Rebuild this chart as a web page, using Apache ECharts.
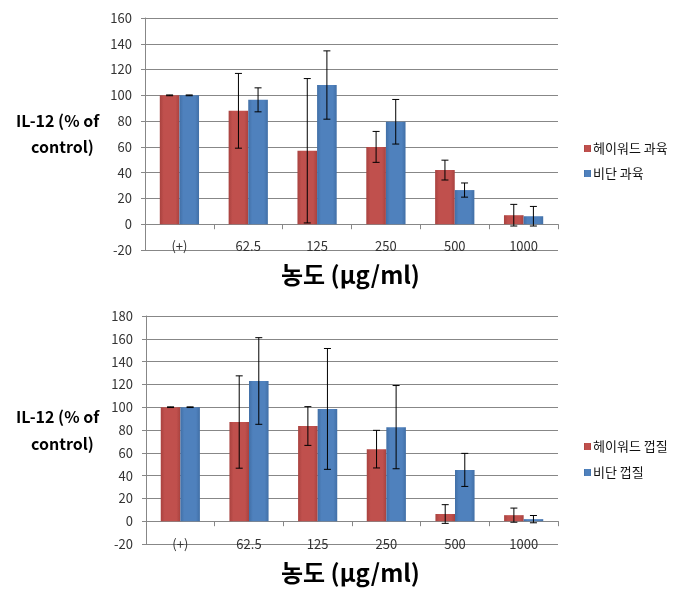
<!DOCTYPE html>
<html>
<head>
<meta charset="utf-8">
<script src="https://cdn.jsdelivr.net/npm/echarts@6/dist/echarts.min.js"></script>
<style>
  html, body { margin: 0; padding: 0; background: #fff; }
</style>
</head>
<body>
<div id="chart" style="width: 690px; height: 611px"></div>
<script>
const categories = ['(+)', '62.5', '125', '250', '500', '1000'];
const yTicks = { top: [-20, 160], bottom: [-20, 180] };

// 과육 (pulp)
const pulpHayward = [100, 88, 57, 60, 42, 7];
const pulpHaywardErr = [0.3, 29, 56, 12, 7.7, 8.4];
const pulpVidan = [100, 96.5, 108, 79.5, 26.5, 6.2];
const pulpVidanErr = [0.3, 9.3, 26.5, 17.3, 5.5, 7.6];

// 껍질 (peel)
const peelHayward = [100, 87, 83.5, 63.2, 6.3, 5.3];
const peelHaywardErr = [0.3, 40.5, 17, 16.5, 8.2, 6.2];
const peelVidan = [100, 123, 98.5, 82.5, 45, 1.8];
const peelVidanErr = [0.3, 38, 53, 36.5, 14.5, 3.2];

const RED = '#C0504D';
const BLUE = '#4F81BD';
const GRID_COLOR = '#878787';
const CAT_GAP = 0.43;

const barFill = (c, dark) => ({
  type: 'linear', x: 0, y: 0, x2: 1, y2: 0,
  colorStops: [
    { offset: 0, color: dark },
    { offset: 0.2, color: c },
    { offset: 0.8, color: c },
    { offset: 1, color: dark }
  ]
});

const errData = (vals, errs) => vals.map((v, i) => [i, v - errs[i], v + errs[i]]);

// error bars drawn through the axis scale, shifted onto the left/right bar
const errorSeries = (name, vals, errs, idx, side) => ({
  type: 'custom',
  name: name + ' err',
  xAxisIndex: idx,
  yAxisIndex: idx,
  z: 10,
  silent: true,
  data: errData(vals, errs),
  encode: { x: 0, y: [1, 2] },
  renderItem: (params, api) => {
    const band = api.size([1, 0])[0];
    const barW = band * (1 - CAT_GAP) / 2;
    const lo = api.coord([api.value(0), api.value(1)]);
    const hi = api.coord([api.value(0), api.value(2)]);
    const x = lo[0] + side * barW / 2;
    const cap = 3.5;
    const style = { stroke: '#000', lineWidth: 1 };
    return {
      type: 'group',
      children: [
        { type: 'line', shape: { x1: x, y1: lo[1], x2: x, y2: hi[1] }, style },
        { type: 'line', shape: { x1: x - cap, y1: lo[1], x2: x + cap, y2: lo[1] }, style },
        { type: 'line', shape: { x1: x - cap, y1: hi[1], x2: x + cap, y2: hi[1] }, style }
      ]
    };
  }
});

const barSeries = (name, vals, idx, color, dark) => ({
  type: 'bar',
  name,
  xAxisIndex: idx,
  yAxisIndex: idx,
  data: vals,
  barGap: '0%',
  barCategoryGap: (CAT_GAP * 100) + '%',
  itemStyle: { color: barFill(color, dark) },
  emphasis: { disabled: true }
});

const xAxis = (idx, margin) => ({
  type: 'category',
  gridIndex: idx,
  data: categories,
  axisLine: { onZero: true, lineStyle: { color: GRID_COLOR, width: 1 } },
  axisTick: { show: true, length: 5, lineStyle: { color: GRID_COLOR } },
  axisLabel: { color: '#333', fontSize: 13, margin },
  splitLine: { show: false }
});

const yAxis = (idx, range) => ({
  type: 'value',
  gridIndex: idx,
  min: range[0],
  max: range[1],
  interval: 20,
  axisLine: { show: true, lineStyle: { color: GRID_COLOR } },
  axisTick: { show: true, length: 4, lineStyle: { color: GRID_COLOR } },
  axisLabel: { color: '#333', fontSize: 13, margin: 13 },
  splitLine: { lineStyle: { color: GRID_COLOR, width: 1 } }
});

const chart = echarts.init(document.getElementById('chart'));
chart.setOption({
  animation: false,
  textStyle: { fontFamily: 'Noto Sans CJK KR' },
  grid: [
    { left: 145, top: 18, width: 413, height: 232 },
    { left: 146, top: 316, width: 412, height: 228 }
  ],
  xAxis: [xAxis(0, -10), xAxis(1, -6)],
  yAxis: [yAxis(0, yTicks.top), yAxis(1, yTicks.bottom)],
  legend: [
    {
      orient: 'vertical', left: 579, top: 137, itemWidth: 7, itemHeight: 7, itemGap: 12,
      icon: 'rect', data: ['헤이워드 과육', '비단 과육'],
      textStyle: { fontSize: 13, color: '#111', padding: [0, 0, 0, -3] }
    },
    {
      orient: 'vertical', left: 579, top: 435, itemWidth: 7, itemHeight: 7, itemGap: 13,
      icon: 'rect', data: ['헤이워드 껍질', '비단 껍질'],
      textStyle: { fontSize: 13, color: '#111', padding: [0, 0, 0, -3] }
    }
  ],
  graphic: [
    { type: 'text', left: 16, top: 113, style: { text: 'IL-12 (% of', font: 'bold 16px "Noto Sans CJK KR"', fill: '#000' } },
    { type: 'text', left: 31, top: 139, style: { text: 'control)', font: 'bold 16px "Noto Sans CJK KR"', fill: '#000' } },
    { type: 'text', left: 16, top: 409, style: { text: 'IL-12 (% of', font: 'bold 16px "Noto Sans CJK KR"', fill: '#000' } },
    { type: 'text', left: 31, top: 436, style: { text: 'control)', font: 'bold 16px "Noto Sans CJK KR"', fill: '#000' } },
    { type: 'text', left: 281, top: 263, style: { text: '농도 (μg/ml)', font: 'bold 24px "Noto Sans CJK KR"', fill: '#000' } },
    { type: 'text', left: 281, top: 561, style: { text: '농도 (μg/ml)', font: 'bold 24px "Noto Sans CJK KR"', fill: '#000' } }
  ],
  series: [
    barSeries('헤이워드 과육', pulpHayward, 0, RED, '#A8423F'),
    barSeries('비단 과육', pulpVidan, 0, BLUE, '#416FA6'),
    barSeries('헤이워드 껍질', peelHayward, 1, RED, '#A8423F'),
    barSeries('비단 껍질', peelVidan, 1, BLUE, '#416FA6'),
    errorSeries('헤이워드 과육', pulpHayward, pulpHaywardErr, 0, -1),
    errorSeries('비단 과육', pulpVidan, pulpVidanErr, 0, 1),
    errorSeries('헤이워드 껍질', peelHayward, peelHaywardErr, 1, -1),
    errorSeries('비단 껍질', peelVidan, peelVidanErr, 1, 1)
  ]
});
</script>
</body>
</html>
